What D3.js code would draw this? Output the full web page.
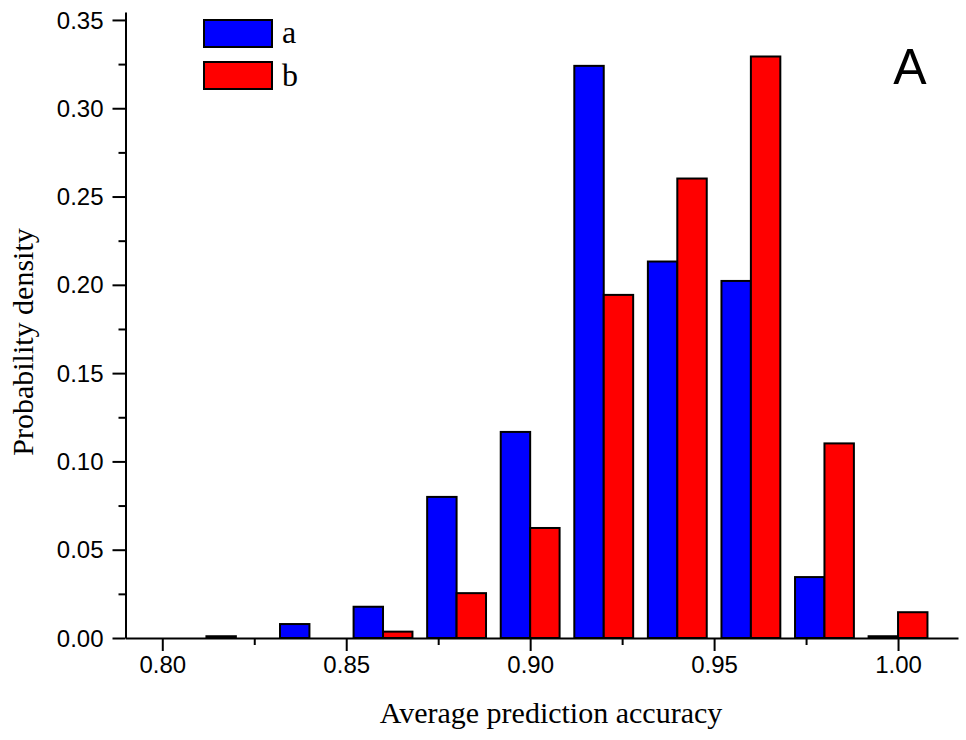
<!DOCTYPE html>
<html>
<head>
<meta charset="utf-8">
<script src="https://cdn.jsdelivr.net/npm/d3@7/dist/d3.min.js"></script>
<style>
  body { margin: 0; background: #fff; }
  .tick text { font-family: "Liberation Sans", Arial, sans-serif; font-size: 24px; fill: #000; }
</style>
</head>
<body>
<svg id="chart" width="966" height="740"></svg>
<script>
// bin centers and densities
var bins = [0.80, 0.82, 0.84, 0.86, 0.88, 0.90, 0.92, 0.94, 0.96, 0.98, 1.00];
var seriesA = [0, 0.001, 0.0079, 0.0177, 0.0799, 0.1167, 0.324, 0.2132, 0.2022, 0.0345, 0.001];
var seriesB = [0, 0, 0, 0.0036, 0.0254, 0.0623, 0.1943, 0.2602, 0.3293, 0.1102, 0.0146];
var seriesNames = ["a", "b"];
var seriesColors = ["#0000ff", "#ff0000"];
var xTicks = [0.80, 0.85, 0.90, 0.95, 1.00];
var yTicks = [0, 0.05, 0.10, 0.15, 0.20, 0.25, 0.30, 0.35];
var barWidth = 0.008;

var svg = d3.select("#chart");

var x = d3.scaleLinear().domain([0.79, 1.0163]).range([125.5, 958]);
var y = d3.scaleLinear().domain([0, 0.3545]).range([638, 12]);

// bars: a to the left of the bin center, b to the right
var series = [seriesA, seriesB];
series.forEach(function (vals, s) {
  svg
    .append("g")
    .selectAll("rect")
    .data(bins.map(function (b, i) { return { c: b, v: vals[i] }; }).filter(function (d) { return d.v > 0; }))
    .enter()
    .append("rect")
    .attr("x", function (d) { return x(s == 0 ? d.c - barWidth : d.c); })
    .attr("width", function (d) { return x(d.c + barWidth) - x(d.c); })
    .attr("y", function (d) { return y(d.v); })
    .attr("height", function (d) { return y(0) - y(d.v); })
    .attr("fill", seriesColors[s])
    .attr("stroke", "#000")
    .attr("stroke-width", 2);
});

// minor ticks
svg
  .append("g")
  .attr("transform", "translate(0," + y(0) + ")")
  .call(d3.axisBottom(x).tickValues([0.825, 0.875, 0.925, 0.975]).tickSize(7).tickSizeOuter(0).tickFormat(""))
  .call(function (g) { g.select(".domain").remove(); })
  .selectAll("line").attr("stroke-width", 2);
svg
  .append("g")
  .attr("transform", "translate(" + x.range()[0] + ",0)")
  .call(d3.axisLeft(y).tickValues([0.025, 0.075, 0.125, 0.175, 0.225, 0.275, 0.325]).tickSize(7).tickSizeOuter(0).tickFormat(""))
  .call(function (g) { g.select(".domain").remove(); })
  .selectAll("line").attr("stroke-width", 2);

// X axis
var xAxis = svg
  .append("g")
  .attr("transform", "translate(0," + y(0) + ")")
  .call(d3.axisBottom(x).tickValues(xTicks).tickSize(13).tickSizeOuter(0).tickPadding(5).tickFormat(d3.format(".2f")));
xAxis.select(".domain").attr("stroke-width", 2);
xAxis.selectAll("line").attr("stroke-width", 2);

// Y axis
var yAxis = svg
  .append("g")
  .attr("transform", "translate(" + x.range()[0] + ",0)")
  .call(d3.axisLeft(y).tickValues(yTicks).tickSize(13).tickSizeOuter(0).tickPadding(9).tickFormat(d3.format(".2f")));
yAxis.select(".domain").attr("stroke-width", 2);
yAxis.selectAll("line").attr("stroke-width", 2);
yAxis.selectAll("text").attr("dy", "0.34em");

// axis titles
svg
  .append("text")
  .attr("x", 551)
  .attr("y", 723)
  .style("text-anchor", "middle")
  .style("font-family", "'Liberation Serif', 'Times New Roman', serif")
  .style("font-size", "30px")
  .text("Average prediction accuracy");

svg
  .append("text")
  .attr("transform", "translate(33,342) rotate(-90)")
  .style("text-anchor", "middle")
  .style("font-family", "'Liberation Serif', 'Times New Roman', serif")
  .style("font-size", "30px")
  .text("Probability density");

// legend
var legend = svg.append("g").attr("transform", "translate(204,20)");
seriesNames.forEach(function (name, i) {
  legend
    .append("rect")
    .attr("x", 0)
    .attr("y", i * 42)
    .attr("width", 68)
    .attr("height", 27)
    .attr("fill", seriesColors[i])
    .attr("stroke", "#000")
    .attr("stroke-width", 2);
  legend
    .append("text")
    .attr("x", 78)
    .attr("y", i * 43 + 23)
    .style("font-family", "'Liberation Serif', 'Times New Roman', serif")
    .style("font-size", "32px")
    .text(name);
});

// panel letter
svg
  .append("text")
  .attr("x", 910)
  .attr("y", 84)
  .style("text-anchor", "middle")
  .style("font-family", "'Liberation Sans', Arial, sans-serif")
  .style("font-size", "50px")
  .text("A");
</script>
</body>
</html>
